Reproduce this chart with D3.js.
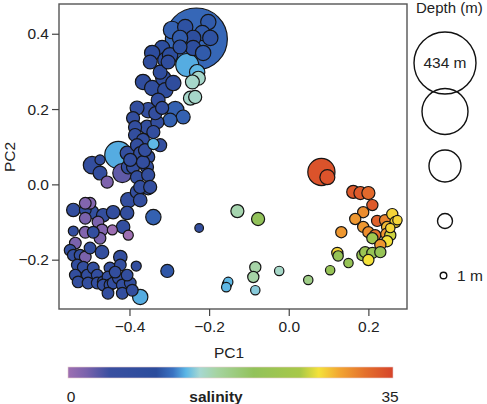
<!DOCTYPE html>
<html><head><meta charset="utf-8">
<script src="https://cdn.jsdelivr.net/npm/d3@7"></script>
<style>
body{margin:0;background:#fff}
svg{display:block}
text{font-family:"Liberation Sans",Arial,Helvetica,sans-serif;fill:#222}
</style>
</head><body>
<svg id="c" width="487" height="404"></svg>
<script>
// ---- data (PC scores, depth in m, salinity) ----
const pc1 = [
-0.232,-0.260,-0.202,-0.217,-0.240,-0.197,-0.240,-0.215,-0.273,-0.293,
-0.318,-0.343,-0.310,-0.298,-0.273,-0.255,-0.230,-0.227,-0.242,-0.247,
-0.235,-0.285,-0.265,-0.298,-0.366,-0.343,-0.315,-0.310,-0.290,-0.323,
-0.348,-0.303,-0.381,-0.353,-0.328,-0.330,-0.391,-0.386,-0.356,-0.386,
-0.340,-0.366,-0.340,-0.323,-0.381,-0.373,-0.353,-0.391,-0.356,-0.381,
-0.353,-0.373,-0.348,-0.428,-0.418,-0.456,-0.494,-0.474,-0.474,-0.406,
-0.403,-0.398,-0.366,-0.361,-0.335,-0.318,
-0.541,-0.511,-0.499,-0.511,-0.541,-0.511,-0.511,-0.494,-0.479,-0.469,
-0.443,-0.403,-0.416,-0.466,-0.441,-0.406,-0.403,-0.381,-0.373,-0.353,
-0.340,-0.474,-0.491,-0.536,-0.549,-0.541,-0.524,-0.511,-0.499,-0.531,
-0.516,-0.536,-0.506,-0.491,-0.481,-0.529,-0.504,-0.481,-0.466,-0.469,
-0.449,-0.454,-0.466,-0.449,-0.441,-0.428,-0.418,-0.454,-0.418,-0.398,
-0.406,-0.423,-0.423,-0.383,-0.373,-0.436,-0.393,
-0.225,-0.129,-0.077,-0.305,-0.155,-0.152,-0.157,-0.084,-0.089,-0.084,-0.024,0.049,
0.082,0.097,0.162,0.180,0.200,0.210,0.187,0.167,0.222,0.242,
0.260,0.268,0.247,0.187,0.200,0.217,0.245,0.210,0.255,0.247,
0.230,0.132,0.122,0.124,0.104,0.150,0.185,0.192,0.210,0.200,
0.230,0.273,0.255
];
const pc2 = [
0.386,0.418,0.431,0.402,0.389,0.389,0.362,0.349,0.389,0.410,
0.362,0.349,0.330,0.343,0.365,0.317,0.298,0.282,0.272,0.229,
0.232,0.197,0.179,0.171,0.272,0.256,0.282,0.250,0.269,0.298,
0.325,0.325,0.203,0.197,0.224,0.165,0.176,0.152,0.152,0.131,
0.139,0.118,0.107,0.104,0.104,0.083,0.073,0.046,0.046,0.019,
0.025,-0.007,-0.007,0.078,0.030,0.006,0.051,0.030,0.065,0.083,
0.046,0.065,0.059,0.091,0.189,0.203,
-0.068,-0.068,-0.050,-0.050,-0.124,-0.127,-0.090,-0.074,-0.100,-0.121,
-0.121,-0.135,-0.113,-0.082,-0.074,-0.076,-0.042,-0.020,-0.042,-0.010,
-0.087,-0.143,-0.127,-0.156,-0.175,-0.188,-0.188,-0.193,-0.169,-0.214,
-0.220,-0.241,-0.241,-0.222,-0.241,-0.259,-0.262,-0.262,-0.259,-0.180,
-0.222,-0.246,-0.267,-0.267,-0.262,-0.249,-0.267,-0.289,-0.289,-0.262,
-0.241,-0.214,-0.193,-0.217,-0.299,-0.233,-0.281,
-0.116,-0.071,-0.092,-0.230,-0.265,-0.259,-0.273,-0.220,-0.246,-0.281,-0.230,-0.254,
0.033,0.019,-0.020,-0.023,-0.023,-0.055,-0.074,-0.092,-0.097,-0.095,
-0.079,-0.100,-0.113,-0.113,-0.127,-0.135,-0.132,-0.143,-0.135,-0.151,
-0.161,-0.127,-0.182,-0.190,-0.228,-0.209,-0.188,-0.180,-0.182,-0.201,
-0.180,-0.095,-0.116
];
const depth = [
434,17,17,17,17,17,17,17,17,24,
17,17,17,17,13,47,17,13,13,13,
11,24,13,13,17,17,17,17,17,13,
13,13,13,17,13,11,11,11,13,11,
11,11,7,11,11,11,11,11,11,11,
11,11,11,70,30,9,24,13,5,13,
13,11,11,11,11,11,
12,8,8,8,5,8,8,12,8,8,
5,5,12,12,12,12,17,12,12,12,
17,8,8,8,8,8,8,8,8,8,
8,8,8,8,8,8,8,8,8,12,
8,8,8,8,8,8,8,8,8,8,
8,8,12,5,17,8,8,
3,11,11,11,4,4,4,7,7,4,4,4,
70,16,11,11,11,7,7,7,7,7,
7,7,7,7,7,7,7,7,7,7,
7,7,7,5.5,4,4,7,7,7,7,
7,4,4
];
const salinity = [
10.8,9.8,10.2,10.2,9.6,9.8,9.6,10.2,10.2,10.5,
9.6,9.2,9.2,9.6,9.8,12.5,12.8,14.5,14.5,14.5,
14.5,10.5,10.5,10.5,8,8,8.5,8.5,8.5,8.5,
8.5,8.5,7,7,7.5,7,7,7,7,7,
7,7,12.8,7,7,7,7,7,7,7,
7,7,7,12.5,3,1.8,7,7,7,7,
7,7,7,7,7,7.5,
7,7,1.5,1.5,7,1.5,2,7,2,1.5,
0,0,7,7,7,7,7,7,7,7,
10.5,2,7,2,7,7,7,2,7,7,
7,7,7,7,7,7,7,7,7,7,
7,7,7,7,7,7,7,7,7,7,
7,7,7,7,12.5,7,7,
7,15.5,20,10,6,12.8,12.8,15.8,15.8,13.6,14.6,17.5,
34,34,33.5,33.5,32.5,33.5,30.5,30,33,31,
27.5,27.5,28.5,30,30.5,32,30,23,26,27,
30,30,27.5,21,21,21,21,22,21,27,
21,27.5,27.5
];
const xTicks = [-0.4, -0.2, 0.0, 0.2];
const yTicks = [-0.2, 0.0, 0.2, 0.4];
const legendDepths = [434, 228, 102, 16, 1];
const legendLabels = ["434 m", "", "", "", "1 m"];
const salStops  = [0, 2, 4.5, 9.5, 11.3, 12.7, 14.2, 16, 20, 25, 27, 29.2, 32, 35];
const salColors = ["#9d6fb2","#7a62ac","#3a4fa0","#2c4c9c","#3a72c2","#5ab6e6","#a6d8d2",
                   "#a6d4a2","#92c25a","#a8c848","#f4e23a","#f2a632","#e4702c","#d6442a"];

// ---- layout ----
const svg = d3.select("#c");
const P = {l:59, r:407, t:4, b:309};
const x = d3.scaleLinear().domain([-0.577, 0.297]).range([P.l, P.r]);
const y = d3.scaleLinear().domain([-0.331, 0.479]).range([P.b, P.t]);
const rad = d3.scaleSqrt().domain([1, 434]).range([3.3, 31]);
const col = d3.scaleLinear().domain(salStops).range(salColors).clamp(true);
const fs = "15.5px";

// points, larger drawn first
const idx = d3.range(pc1.length).sort((a,b)=> depth[b]-depth[a] || a-b);
const gp = svg.append("g");
gp.selectAll("circle").data(idx).join("circle")
  .attr("cx", i=>x(pc1[i])).attr("cy", i=>y(pc2[i])).attr("r", i=>rad(depth[i]))
  .attr("fill", i=>col(salinity[i])).attr("stroke","#151515").attr("stroke-width",1.2);

// frame
svg.append("rect").attr("x",P.l).attr("y",P.t).attr("width",P.r-P.l).attr("height",P.b-P.t)
  .attr("fill","none").attr("stroke","#555").attr("stroke-width",1.4);

// axes
const fmt = d3.format(".1f");
const ax = svg.append("g").attr("transform",`translate(0,${P.b})`)
  .call(d3.axisBottom(x).tickValues(xTicks).tickFormat(fmt).tickSize(7).tickPadding(5));
const ay = svg.append("g").attr("transform",`translate(${P.l},0)`)
  .call(d3.axisLeft(y).tickValues(yTicks).tickFormat(fmt).tickSize(7).tickPadding(3));
[ax, ay].forEach(g=>{
  g.select(".domain").remove();
  g.selectAll("line").attr("stroke","#444").attr("stroke-width",1.2);
  g.selectAll("text").style("font-size",fs).style("font-family",'"Liberation Sans",Arial,sans-serif').attr("fill","#222");
});

svg.append("text").attr("x",229).attr("y",358).attr("text-anchor","middle").style("font-size",fs).text("PC1");
svg.append("text").attr("transform","translate(15,157) rotate(-90)").attr("text-anchor","middle").style("font-size",fs).text("PC2");

// depth legend
svg.append("text").attr("x",416).attr("y",13).style("font-size","15px").text("Depth (m)");
const legY = [63, 111.5, 166, 221, 275.5];
const lg = svg.append("g");
legendDepths.forEach((d,i)=>{
  const cx = i===4 ? 443.5 : 445;
  lg.append("circle").attr("cx",cx).attr("cy",legY[i]).attr("r",rad(d))
    .attr("fill","none").attr("stroke","#111").attr("stroke-width",1.4);
  if (i===0) lg.append("text").attr("x",cx).attr("y",legY[i]+5).attr("text-anchor","middle").style("font-size",fs).text(legendLabels[i]);
  if (i===4) lg.append("text").attr("x",457).attr("y",legY[i]+5).style("font-size",fs).text(legendLabels[i]);
});

// colour bar
const cb = {x0:68, x1:393, y:367, h:11};
const cbx = d3.scaleLinear().domain([0,35]).range([0,100]);
const grad = svg.append("defs").append("linearGradient").attr("id","sal");
salStops.forEach((s,i)=>grad.append("stop").attr("offset",cbx(s)+"%").attr("stop-color",salColors[i]));
svg.append("rect").attr("x",cb.x0).attr("y",cb.y).attr("width",cb.x1-cb.x0).attr("height",cb.h)
  .attr("fill","url(#sal)").attr("stroke","#e6cccc").attr("stroke-width",0.6);
svg.append("text").attr("x",71).attr("y",402).attr("text-anchor","middle").style("font-size",fs).text("0");
svg.append("text").attr("x",390).attr("y",402).attr("text-anchor","middle").style("font-size",fs).text("35");
svg.append("text").attr("x",216).attr("y",402).attr("text-anchor","middle").style("font-size",fs).style("font-weight","bold").text("salinity");
</script>
</body></html>
